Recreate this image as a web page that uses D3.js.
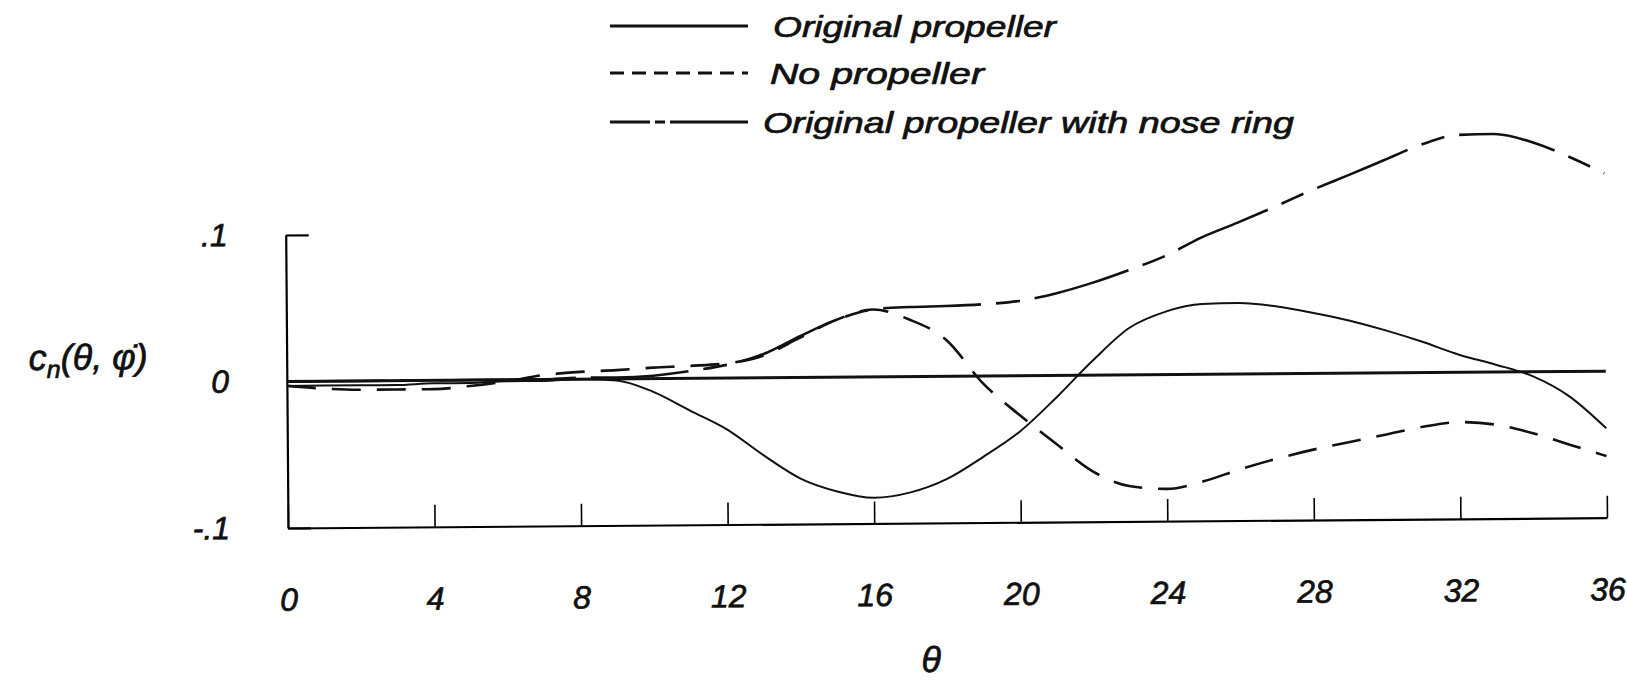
<!DOCTYPE html>
<html>
<head>
<meta charset="utf-8">
<script src="https://cdn.jsdelivr.net/npm/d3@7/dist/d3.min.js"></script>
<style>
  body { margin: 0; background: #fff; }
  svg text { font-family: "Liberation Sans", Arial, sans-serif; font-style: italic; fill: #111; stroke: #111; stroke-width: 0.7px; }
</style>
</head>
<body>
<script>
// Values (theta in degrees)
const theta = [0, 1, 2, 3, 4, 5, 6, 7, 8, 9, 10, 11, 12, 13, 14, 15, 16, 17, 18,
    19, 20, 21, 22, 23, 24, 25, 26, 27, 28, 29, 30, 31, 32, 33, 34, 35, 36];

const originalProp = [-0.003, -0.003, -0.003, -0.003, -0.002, -0.002, -0.001, -0.001, 0.000, -0.001,
    -0.009, -0.022, -0.035, -0.053, -0.069, -0.078, -0.0825, -0.079, -0.070, -0.055,
    -0.038, -0.015, 0.010, 0.032, 0.043, 0.048, 0.0485, 0.046, 0.0415, 0.036,
    0.029, 0.021, 0.012, 0.005, -0.003, -0.017, -0.039];

const noProp = [-0.003, -0.005, -0.006, -0.006, -0.006, -0.004, -0.001, 0.003, 0.005, 0.006,
    0.0075, 0.0085, 0.010, 0.015, 0.027, 0.039, 0.046, 0.039, 0.025, -0.005,
    -0.027, -0.047, -0.066, -0.076, -0.078, -0.073, -0.065, -0.058, -0.052, -0.047,
    -0.042, -0.037, -0.034, -0.036, -0.042, -0.050, -0.058];

const noseRing = [0.000, 0.000, 0.000, 0.000, 0.000, 0.000, 0.000, 0.000, 0.001, 0.001,
    0.002, 0.005, 0.009, 0.016, 0.028, 0.039, 0.046, 0.0475, 0.048, 0.049,
    0.051, 0.056, 0.063, 0.0715, 0.081, 0.0935, 0.1035, 0.114, 0.125, 0.135,
    0.1453, 0.1555, 0.162, 0.1625, 0.157, 0.147, 0.135];

const xTicks = [0, 4, 8, 12, 16, 20, 24, 28, 32, 36];
const yTicks = [-0.1, 0, 0.1];
const yTickLabels = ['-.1', '0', '.1'];

const legendLabels = ['Original propeller', 'No propeller', 'Original propeller with nose ring'];
const legendDash = ['none', '14,8', '40,5,10,5,80'];
const curveDash = ['none', '29,16', '98,15,24,15'];

// Canvas
const width = 1627, height = 683;
const svg = d3.select('body')
    .append('svg')
    .attr('width', width)
    .attr('height', height);

const x = d3.scaleLinear().domain([0, 36]).range([288, 1607]);
const y = d3.scaleLinear().domain([-0.1, 0.1]).range([528, 235]);

// the scan is tilted a little, so the whole plot is too
const plot = svg.append('g')
    .attr('transform', 'rotate(-0.45,288,528)');

// bottom axis, ticks point up
const xAxis = plot.append('g')
    .attr('transform', `translate(0,${y(-0.1)})`)
    .call(d3.axisBottom(x).tickValues(xTicks).tickSize(-22).tickSizeOuter(0).tickPadding(60));
xAxis.select('.domain').attr('stroke-width', 2.2);
xAxis.selectAll('.tick line').attr('stroke-width', 1.6);
xAxis.selectAll('.tick text')
    .attr('font-size', 32)
    .attr('font-family', null);

// left axis
const yAxis = plot.append('g')
    .attr('transform', `translate(${x(0)},0)`)
    .call(d3.axisLeft(y).tickValues(yTicks).tickSize(-23).tickSizeOuter(0).tickPadding(58)
        .tickFormat((d, i) => yTickLabels[i]));
yAxis.select('.domain').attr('stroke-width', 2.2);
yAxis.selectAll('.tick line').attr('stroke-width', 2.2);
yAxis.selectAll('.tick text')
    .attr('font-size', 32)
    .attr('font-family', null);

// zero reference line
plot.append('line')
    .attr('x1', x(0)).attr('x2', x(36))
    .attr('y1', y(0)).attr('y2', y(0))
    .attr('stroke', '#111')
    .attr('stroke-width', 3);

// curves
const line = d3.line()
    .x((d, i) => x(theta[i]))
    .y(d => y(d))
    .curve(d3.curveMonotoneX);

[originalProp, noProp, noseRing].forEach(function (series, k) {
    plot.append('path')
        .datum(series)
        .attr('d', line)
        .attr('fill', 'none')
        .attr('stroke', '#111')
        .attr('stroke-width', k === 0 ? 2 : 2.6)
        .attr('stroke-dasharray', curveDash[k]);
});

// axis titles
const yTitle = plot.append('text')
    .attr('x', 30)
    .attr('y', 368)
    .attr('font-size', 36);
yTitle.append('tspan').text('c');
yTitle.append('tspan').attr('font-size', 25).attr('dy', 8).text('n');
yTitle.append('tspan').attr('dy', -8).text('(\u03b8, \u03c6\u0307)');

plot.append('text')
    .attr('x', 930)
    .attr('y', 677)
    .attr('text-anchor', 'middle')
    .attr('font-size', 36)
    .text('\u03b8');

// legend
const legendY = [26, 73, 122];
const legendTextX = [773, 770, 763];
const legendTextW = [283, 214, 531];
const legend = svg.append('g');
legendLabels.forEach(function (label, i) {
    legend.append('line')
        .attr('x1', 610).attr('x2', 748)
        .attr('y1', legendY[i]).attr('y2', legendY[i])
        .attr('stroke', '#111')
        .attr('stroke-width', 2.8)
        .attr('stroke-dasharray', legendDash[i]);
    legend.append('text')
        .attr('x', legendTextX[i])
        .attr('y', legendY[i] + 11)
        .attr('font-size', 30)
        .attr('textLength', legendTextW[i])
        .attr('lengthAdjust', 'spacingAndGlyphs')
        .text(label);
});
</script>
</body>
</html>
